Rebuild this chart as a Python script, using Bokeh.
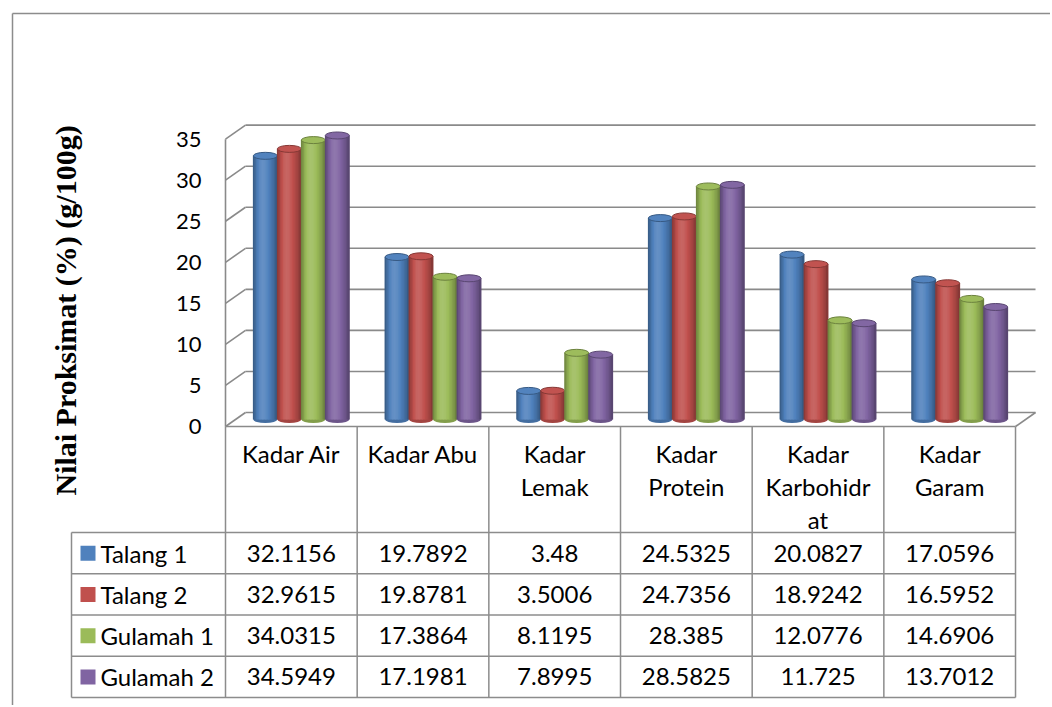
import math
from bokeh.plotting import figure
from bokeh.models import Range1d, ColumnDataSource
from bokeh.core.properties import value
from bokeh.embed import file_html
from bokeh.resources import INLINE

# ---------------- data ----------------
categories = ["Kadar Air", "Kadar Abu", "Kadar Lemak", "Kadar Protein",
              "Kadar Karbohidrat", "Kadar Garam"]
header_lines = [["Kadar Air"], ["Kadar Abu"], ["Kadar", "Lemak"],
                ["Kadar", "Protein"], ["Kadar", "Karbohidr", "at"],
                ["Kadar", "Garam"]]
series_names = ["Talang 1", "Talang 2", "Gulamah 1", "Gulamah 2"]
talang_1 = [32.1156, 19.7892, 3.48, 24.5325, 20.0827, 17.0596]
talang_2 = [32.9615, 19.8781, 3.5006, 24.7356, 18.9242, 16.5952]
gulamah_1 = [34.0315, 17.3864, 8.1195, 28.385, 12.0776, 14.6906]
gulamah_2 = [34.5949, 17.1981, 7.8995, 28.5825, 11.725, 13.7012]
series_values = [talang_1, talang_2, gulamah_1, gulamah_2]
y_ticks = [0, 5, 10, 15, 20, 25, 30, 35]
y_label = "Nilai Proksimat (%) (g/100g)"
colors = ["#4F81BD", "#C0504D", "#9BBB59", "#8064A2"]

# ---------------- layout (pixels) ----------------
W, H = 1050, 705
MARGIN = 0
COL = 131.67          # px per category column
UNIT = 8.21           # px per value unit
ORIGIN_X = 225        # page x of front-left floor corner
ORIGIN_Y = 419        # page y of value 0 at mid depth

def X(page_x):
    return (page_x - ORIGIN_X) / COL

def Y(page_y):
    return (ORIGIN_Y - page_y) / UNIT

DX = 20 / COL         # depth offset (x)
DY = 14 / UNIT        # depth offset (y)
BW = 24 / COL         # bar width
CAP = 7 / UNIT        # cap ellipse height
ncat = len(categories)
ymax = max(y_ticks)

p = figure(width=W, height=H, output_backend="svg", toolbar_location=None,
           x_range=Range1d(X(MARGIN), X(MARGIN + W)),
           y_range=Range1d(Y(MARGIN + H), Y(MARGIN)),
           x_axis_location=None, y_axis_location=None, min_border=0)
p.grid.visible = False
p.outline_line_color = None
p.background_fill_color = "white"
p.border_fill_color = "white"

GRID = "#8a8a8a"
LINE = "#8c8c8c"

# outer frame
p.multi_line(xs=[[X(12), X(1060)], [X(12), X(12)]],
             ys=[[Y(13), Y(13)], [Y(13), Y(720)]],
             line_color=LINE, line_width=1.5)

# ---------------- 3D box ----------------
gx, gy = [], []
for t in y_ticks:
    gx.append([DX, ncat + DX]); gy.append([t + DY / 2, t + DY / 2])
    gx.append([0, DX]); gy.append([t - DY / 2, t + DY / 2])
gx.append([0, 0]); gy.append([-DY / 2, ymax - DY / 2])
gx.append([0, ncat]); gy.append([-DY / 2, -DY / 2])
gx.append([ncat, ncat + DX]); gy.append([-DY / 2, DY / 2])
p.multi_line(xs=gx, ys=gy, line_color=GRID, line_width=1.6)

# ---------------- cylinders ----------------
def mix(hexc, f):
    r, g, b = (int(hexc[i:i + 2], 16) for i in (1, 3, 5))
    if f >= 0:
        r, g, b = (c + (255 - c) * f for c in (r, g, b))
    else:
        r, g, b = (c * (1 + f) for c in (r, g, b))
    return "#%02x%02x%02x" % (int(r), int(g), int(b))

key = [-0.32, -0.12, 0.05, 0.13, 0.11, 0.03, -0.07, -0.17, -0.34]
ns = 16
profile = []
for k in range(ns):
    u = (k + 0.5) / ns * (len(key) - 1)
    a = int(u); fr = u - a
    b = min(a + 1, len(key) - 1)
    profile.append(key[a] * (1 - fr) + key[b] * fr)

for i, vals in enumerate(series_values):
    base = colors[i]
    cx = [j + 0.5 + DX / 2 + (i - 1.5) * BW for j in range(ncat)]
    # bottom rounding
    p.ellipse(x=cx, y=[0] * ncat, width=BW, height=CAP,
              fill_color=mix(base, -0.15), line_color=None)
    sx, st, sc = [], [], []
    for k, f in enumerate(profile):
        for j in range(ncat):
            sx.append(cx[j] - BW / 2 + (k + 0.5) * BW / ns)
            st.append(vals[j])
            sc.append(mix(base, f))
    src = ColumnDataSource(dict(x=sx, top=st, color=sc))
    p.vbar(x="x", top="top", bottom=0, width=BW / ns * 1.6, source=src,
           fill_color="color", line_color=None)
    p.ellipse(x=cx, y=vals, width=BW, height=CAP,
              fill_color=mix(base, 0.02), line_color=mix(base, -0.3),
              line_width=1)

# ---------------- y tick labels & label ----------------
p.text(x=[X(201)] * len(y_ticks), y=[t - DY / 2 for t in y_ticks],
       text=[str(t) for t in y_ticks], text_align="right",
       text_baseline="middle", text_font=value("Lato"),
       text_font_size="22px", text_color="#000000")

p.text(x=[X(65)], y=[Y(310)], text=[y_label], angle=math.pi / 2,
       text_align="center", text_baseline="middle",
       text_font=value("Liberation Serif"), text_font_style="bold",
       text_font_size="30px", text_color="#000000")

# ---------------- data table ----------------
HEAD_TOP, HEAD_BOT = 427, 532
ROW_H = 41.25
nrow = len(series_names)
row_lines = [HEAD_BOT + ROW_H * r for r in range(nrow + 1)]
tx, ty = [], []
for j in range(ncat + 1):
    tx.append([j, j]); ty.append([-DY / 2, Y(row_lines[-1])])
tx.append([X(71), X(71)]); ty.append([Y(HEAD_BOT), Y(row_lines[-1])])
for yl in row_lines:
    tx.append([X(71), ncat]); ty.append([Y(yl), Y(yl)])
p.multi_line(xs=tx, ys=ty, line_color=LINE, line_width=1.5)

FS = "24px"
hx, hy, ht = [], [], []
for j, lines in enumerate(header_lines):
    for k, ln in enumerate(lines):
        hx.append(j + 0.5); hy.append(Y(453 + 33 * k)); ht.append(ln)
p.text(x=hx, y=hy, text=ht, text_align="center", text_baseline="middle",
       text_font=value("Lato"), text_font_size=FS, text_color="#000000")

vx, vy, vt = [], [], []
for r, vals in enumerate(series_values):
    yc = Y(HEAD_BOT + ROW_H * (r + 0.5))
    for j in range(ncat):
        vx.append(j + 0.5); vy.append(yc); vt.append(str(vals[j]))
p.text(x=vx, y=vy, text=vt, text_align="center", text_baseline="middle",
       text_font=value("Lato"), text_font_size=FS, text_color="#000000")

row_y = [Y(HEAD_BOT + ROW_H * (r + 0.5)) for r in range(nrow)]
p.scatter(x=[X(87.5)] * nrow, y=row_y, marker="square", size=15,
          fill_color=colors, line_color=None)
p.text(x=[X(100)] * nrow, y=row_y, text=series_names, text_align="left",
       text_baseline="middle", text_font=value("Lato"),
       text_font_size=FS, text_color="#000000")

open("out.html", "w").write(file_html(p, INLINE))
